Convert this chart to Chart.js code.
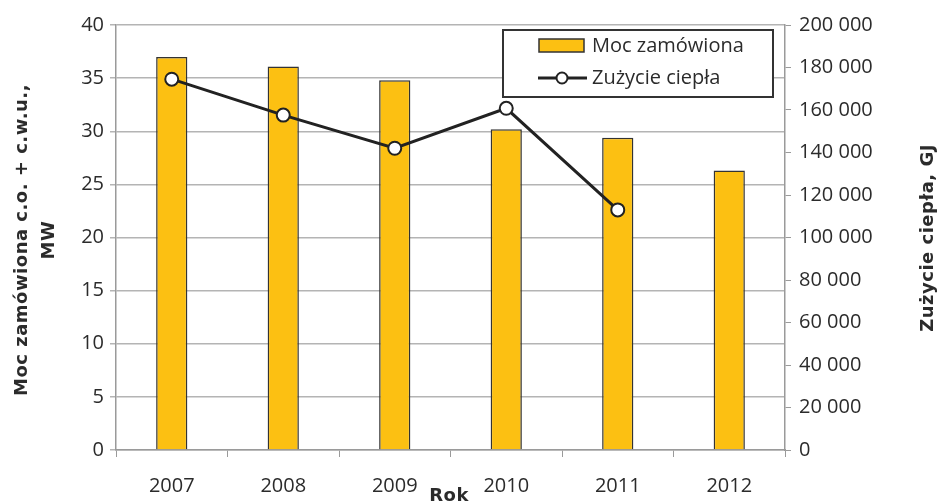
<!DOCTYPE html>
<html>
<head>
<meta charset="utf-8">
<script src="https://cdn.jsdelivr.net/npm/chart.js@4"></script>
<style>
  html, body { margin: 0; padding: 0; background: #fff; }
  #wrap { width: 938px; height: 504px; }
</style>
</head>
<body>
<div id="wrap"><canvas id="chart" width="938" height="504"></canvas></div>
<script>
// Data
const years = ['2007', '2008', '2009', '2010', '2011', '2012'];
const mocZamowiona = [37.0, 36.1, 34.8, 30.2, 29.4, 26.3];          // MW
const zuzycieCiepla = [174500, 157600, 142000, 160800, 113000, null]; // GJ

const seriesNames = ['Moc zamówiona', 'Zużycie ciepła'];
const leftTitle = ['Moc zamówiona c.o. + c.w.u.,', 'MW'];
const rightTitle = 'Zużycie ciepła, GJ';
const bottomTitle = 'Rok';

const FONT = "'Open Sans', 'DejaVu Sans', sans-serif";
const TITLE_FONT = "'DejaVu Sans', 'Open Sans', sans-serif";
const TEXT = '#2b2b2b';
const AXIS = '#9a9a9a';
const GRID = '#b4b4b4';
const BAR = '#FCC012';
const LINE = '#222222';

// Format numbers with a space as thousands separator
function spaced(v) {
    return String(v).replace(/\B(?=(\d{3})+(?!\d))/g, ' ');
}

// Axis titles drawn by hand so the right one reads bottom-to-top
const titlesPlugin = {
    id: 'titles',
    afterDraw(chart) {
        const ctx = chart.ctx;
        ctx.save();
        ctx.fillStyle = TEXT;
        ctx.font = 'bold 18px ' + TITLE_FONT;
        ctx.letterSpacing = '0.5px';
        ctx.textAlign = 'center';
        ctx.textBaseline = 'middle';

        // left title, two lines
        ctx.save();
        ctx.translate(22, 240);
        ctx.rotate(-Math.PI / 2);
        ctx.fillText(leftTitle[0], 0, 0);
        ctx.fillText(leftTitle[1], 0, 27);
        ctx.restore();

        // right title
        ctx.save();
        ctx.translate(928, 238);
        ctx.rotate(-Math.PI / 2);
        ctx.fillText(rightTitle, 0, 0);
        ctx.restore();

        // bottom title
        ctx.fillText(bottomTitle, 449, 496);
        ctx.restore();
    }
};

// Boxed legend in the upper right of the plot
const legendPlugin = {
    id: 'boxLegend',
    afterDraw(chart) {
        const ctx = chart.ctx;
        ctx.save();
        ctx.fillStyle = '#fff';
        ctx.fillRect(503, 30, 270, 67);
        ctx.strokeStyle = '#333';
        ctx.lineWidth = 2;
        ctx.strokeRect(503, 30, 270, 67);

        // bar swatch
        ctx.fillStyle = BAR;
        ctx.fillRect(539, 39, 45, 13);
        ctx.lineWidth = 1.5;
        ctx.strokeStyle = '#333';
        ctx.strokeRect(539, 39, 45, 13);

        // line swatch
        ctx.strokeStyle = LINE;
        ctx.lineWidth = 3;
        ctx.beginPath();
        ctx.moveTo(538, 78);
        ctx.lineTo(587, 78);
        ctx.stroke();
        ctx.beginPath();
        ctx.arc(562, 78, 5.5, 0, Math.PI * 2);
        ctx.fillStyle = '#fff';
        ctx.fill();
        ctx.lineWidth = 2;
        ctx.stroke();

        ctx.fillStyle = TEXT;
        ctx.font = '20px ' + FONT;
        ctx.textAlign = 'left';
        ctx.textBaseline = 'middle';
        ctx.fillText(seriesNames[0], 592, 46);
        ctx.fillText(seriesNames[1], 592, 78);
        ctx.restore();
    }
};

new Chart(document.getElementById('chart').getContext('2d'), {
    type: 'bar',
    data: {
        labels: years,
        datasets: [
            {
                type: 'line',
                label: seriesNames[1],
                data: zuzycieCiepla,
                yAxisID: 'y1',
                order: 0,
                borderColor: LINE,
                borderWidth: 3,
                tension: 0,
                spanGaps: false,
                pointRadius: 6.5,
                pointBackgroundColor: '#fff',
                pointBorderColor: LINE,
                pointBorderWidth: 2
            },
            {
                type: 'bar',
                label: seriesNames[0],
                data: mocZamowiona,
                yAxisID: 'y',
                order: 1,
                backgroundColor: BAR,
                borderColor: '#333',
                borderWidth: 1.5,
                categoryPercentage: 1,
                barPercentage: 0.28
            }
        ]
    },
    options: {
        responsive: false,
        animation: false,
        layout: { padding: { top: 25, left: 0, right: 0, bottom: 0 } },
        plugins: {
            legend: { display: false },
            tooltip: { enabled: false }
        },
        scales: {
            x: {
                offset: true,
                grid: { offset: true, drawOnChartArea: false, drawTicks: true, tickLength: 7, color: AXIS },
                border: { color: AXIS, width: 1.5 },
                ticks: { color: TEXT, font: { family: FONT, size: 20 }, padding: 17, maxRotation: 0 },
                afterFit(scale) { scale.height = 54; }
            },
            y: {
                position: 'left',
                min: 0,
                max: 40,
                ticks: { stepSize: 5, color: TEXT, font: { family: FONT, size: 20 }, padding: 6 },
                grid: { color: GRID, lineWidth: 1.5, tickLength: 6 },
                border: { color: AXIS, width: 1.5 },
                afterFit(scale) { scale.width = 116; }
            },
            y1: {
                position: 'right',
                min: 0,
                max: 200000,
                ticks: {
                    stepSize: 20000,
                    color: TEXT,
                    font: { family: FONT, size: 20 },
                    padding: 8,
                    callback: (v) => spaced(v)
                },
                grid: { drawOnChartArea: false, color: AXIS, tickLength: 6 },
                border: { color: AXIS, width: 1.5 },
                afterFit(scale) { scale.width = 153; }
            }
        }
    },
    plugins: [titlesPlugin, legendPlugin]
});
</script>
</body>
</html>
